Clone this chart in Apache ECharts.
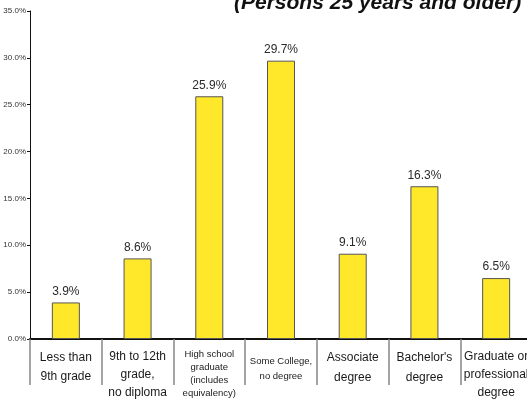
<!DOCTYPE html>
<html><head><meta charset="utf-8">
<script src="https://cdn.jsdelivr.net/npm/echarts@6/dist/echarts.min.js"></script>
<style>html,body{margin:0;padding:0;background:#fff;overflow:hidden}#c{width:545px;height:408px}</style>
</head><body><div id="c"></div>
<script>
const categories = ["Less than\n9th grade","9th to 12th\ngrade,\nno diploma","High school\ngraduate\n(includes\nequivalency)","Some College,\nno degree","Associate\ndegree","Bachelor's\ndegree","Graduate or\nprofessional\ndegree"];
const labelSizes = [12,12,9.5,9.5,12,12,12];
const labelLineHeights = [19,18,13,15,20,20,18];
const labelOffsets = [0,0,0,6,0,0,0];
const values = [3.9,8.6,25.9,29.7,9.1,16.3,6.5];
const yTicks = {min:0,max:35,interval:5};
const titleText = "(Persons 25 years and older)";

const FONT = "'Liberation Sans',Arial,sans-serif";
const chart = echarts.init(document.getElementById('c'));
chart.setOption({
  animation:false,
  title:{text:titleText,left:234,top:-7,padding:0,
    textStyle:{fontFamily:"'Liberation Sans',Arial,sans-serif",fontSize:21,fontWeight:'bold',fontStyle:'italic',color:'#111'}},
  grid:{left:30,top:11,width:502,height:328},
  xAxis:{type:'category',
    data:categories.map((c,i)=>({value:c,textStyle:{fontSize:labelSizes[i],lineHeight:labelLineHeights[i],padding:[labelOffsets[i],0,0,0]}})),
    axisLine:{lineStyle:{color:'#111',width:2}},
    axisTick:{show:true,interval:0,length:46,lineStyle:{color:'#888',width:1.5}},
    axisLabel:{interval:0,margin:9,color:'#1a1a1a',fontFamily:FONT}},
  yAxis:{type:'value',min:yTicks.min,max:yTicks.max,interval:yTicks.interval,
    axisLine:{show:true,lineStyle:{color:'#111',width:1}},
    axisTick:{show:true,length:3,lineStyle:{color:'#111'}},
    splitLine:{show:false},
    axisLabel:{formatter:v=>v.toFixed(1)+'%',fontSize:8,color:'#333',margin:4,fontFamily:FONT}},
  series:[{type:'bar',data:values,barWidth:28,
    itemStyle:{color:'#FFE82A',borderColor:'#555',borderWidth:1},
    label:{show:true,position:'top',distance:5,formatter:p=>p.value.toFixed(1)+'%',fontSize:12,color:'#2a2a2a',fontFamily:FONT}}]
});
</script></body></html>
